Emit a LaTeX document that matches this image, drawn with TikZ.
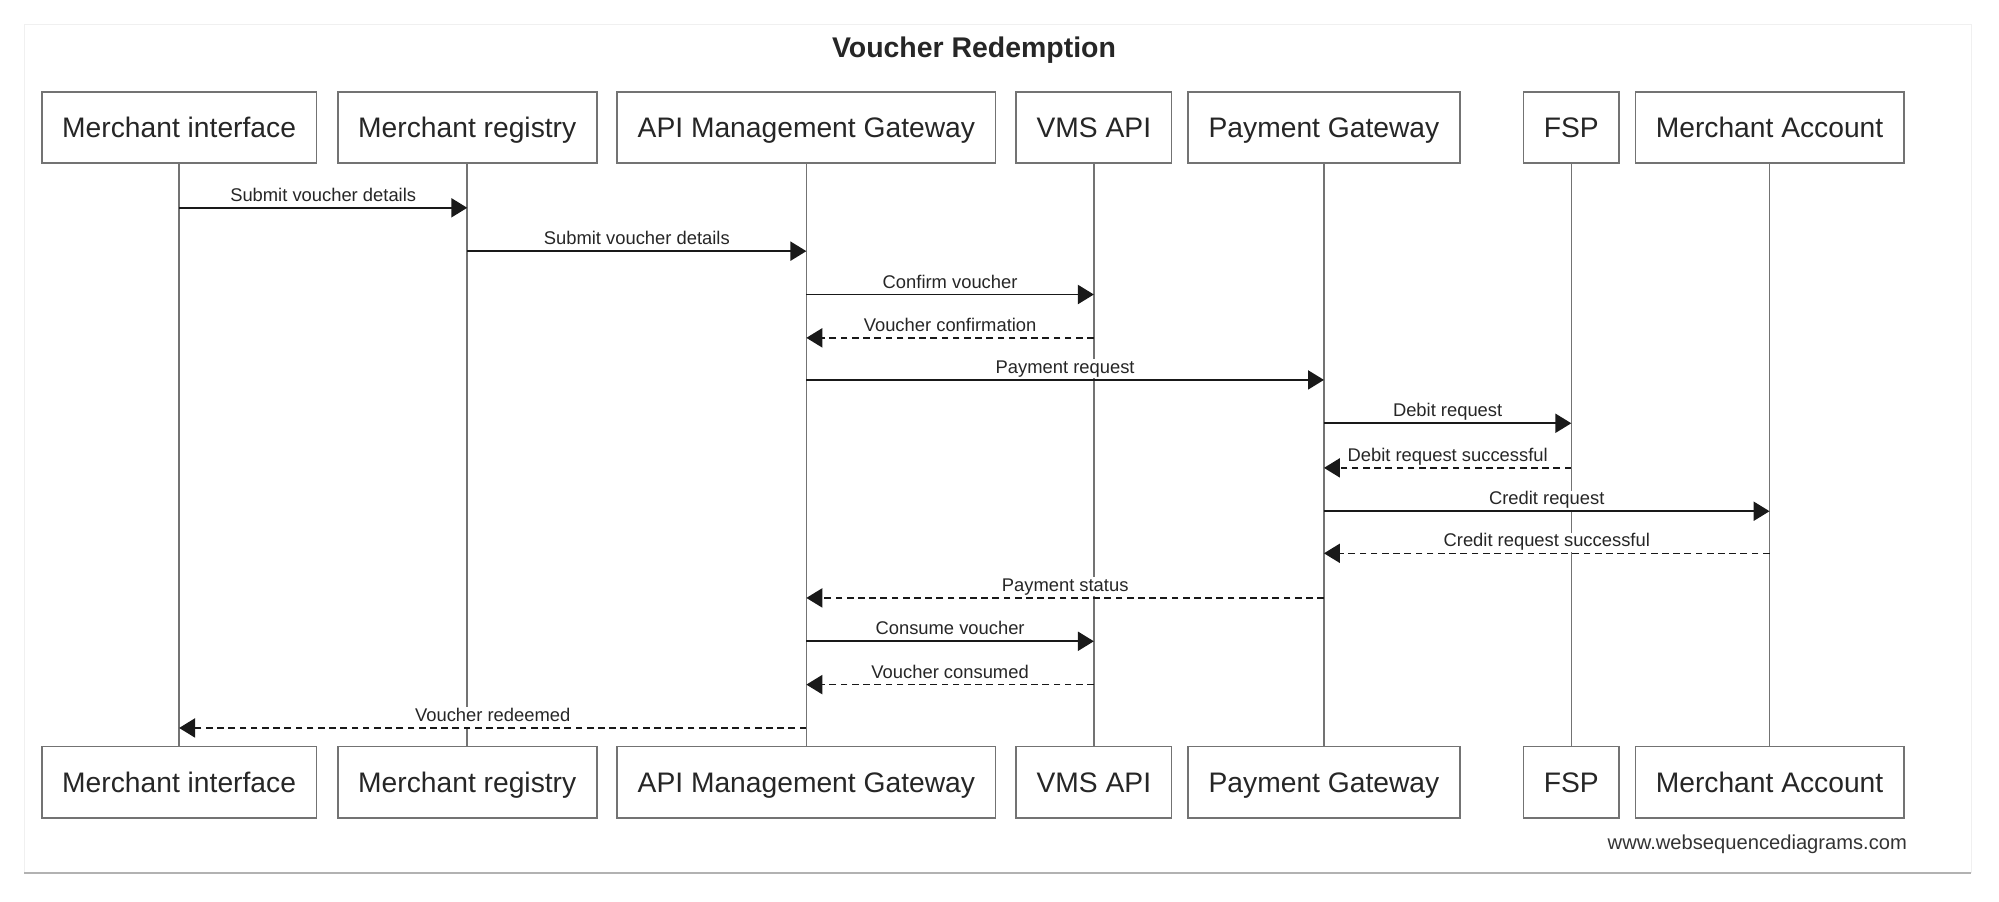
\documentclass[tikz,border=0pt]{standalone}
\usepackage{fontspec}
\setmainfont{Liberation Sans}
\usetikzlibrary{arrows.meta}

\begin{document}
\begin{tikzpicture}[
    participant/.style ={rectangle, draw=black!55, line width=0.8pt, fill=white, text=black!85,
      inner xsep=0.32cm, minimum height=1.12cm, text height=11pt, text depth=2.1pt,
      font=\fontsize{12.6}{15}\selectfont},
    lifeline/.style ={draw=black!55, line width=0.7pt},
    call/.style ={draw=black!90, line width=0.7pt, -{Triangle[length=0.25cm,width=0.3cm]}},
    reply/.style ={call, dash pattern=on 3pt off 2pt},
    msg/.style ={above=0.3pt, fill=white, inner xsep=1.5pt, inner ysep=0.4pt, text height=6pt,
      text depth=1.8pt, text=black!85, font=\fontsize{8.2}{10}\selectfont}]
   \useasboundingbox (0,0) rectangle (31.36,-14.14);
   % frame
   \draw[draw=black!6] (0.38,-13.70) -- (0.38,-0.38) -- (30.92,-0.38) -- (30.92,-13.70);
   \draw[draw=black!30, line width=0.8pt] (0.38,-13.70) -- (30.92,-13.70);
   \node[font=\bfseries\fontsize{12.7}{15}\selectfont, text=black!85] (title) at (15.28,-0.78) {Voucher Redemption};
   % participants
   \node[participant] (MI) at (2.81,-2.0) {Merchant interface};
   \node[participant] (MR) at (7.33,-2.0) {Merchant registry};
   \node[participant] (AG) at (12.65,-2.0) {API Management Gateway};
   \node[participant] (VA) at (17.16,-2.0) {VMS API};
   \node[participant] (PG) at (20.77,-2.0) {Payment Gateway};
   \node[participant] (FS) at (24.65,-2.0) {FSP};
   \node[participant] (MA) at (27.76,-2.0) {Merchant Account};
   \node[participant] (MIb) at (2.81,-12.27) {Merchant interface};
   \node[participant] (MRb) at (7.33,-12.27) {Merchant registry};
   \node[participant] (AGb) at (12.65,-12.27) {API Management Gateway};
   \node[participant] (VAb) at (17.16,-12.27) {VMS API};
   \node[participant] (PGb) at (20.77,-12.27) {Payment Gateway};
   \node[participant] (FSb) at (24.65,-12.27) {FSP};
   \node[participant] (MAb) at (27.76,-12.27) {Merchant Account};
   % lifelines
   \draw[lifeline] (MI) to (MIb);
   \draw[lifeline] (MR) to (MRb);
   \draw[lifeline] (AG) to (AGb);
   \draw[lifeline] (VA) to (VAb);
   \draw[lifeline] (PG) to (PGb);
   \draw[lifeline] (FS) to (FSb);
   \draw[lifeline] (MA) to (MAb);
   % messages
   \draw[call] (MI |- 0,-3.26) -- node[msg] {Submit voucher details} (MR |- 0,-3.26);
   \draw[call] (MR |- 0,-3.94) -- node[msg] {Submit voucher details} (AG |- 0,-3.94);
   \draw[call] (AG |- 0,-4.62) -- node[msg] {Confirm voucher} (VA |- 0,-4.62);
   \draw[reply] (VA |- 0,-5.30) -- node[msg] {Voucher confirmation} (AG |- 0,-5.30);
   \draw[call] (AG |- 0,-5.96) -- node[msg] {Payment request} (PG |- 0,-5.96);
   \draw[call] (PG |- 0,-6.64) -- node[msg] {Debit request} (FS |- 0,-6.64);
   \draw[reply] (FS |- 0,-7.34) -- node[msg] {Debit request successful} (PG |- 0,-7.34);
   \draw[call] (PG |- 0,-8.02) -- node[msg] {Credit request} (MA |- 0,-8.02);
   \draw[reply] (MA |- 0,-8.68) -- node[msg] {Credit request successful} (PG |- 0,-8.68);
   \draw[reply] (PG |- 0,-9.38) -- node[msg] {Payment status} (AG |- 0,-9.38);
   \draw[call] (AG |- 0,-10.06) -- node[msg] {Consume voucher} (VA |- 0,-10.06);
   \draw[reply] (VA |- 0,-10.74) -- node[msg] {Voucher consumed} (AG |- 0,-10.74);
   \draw[reply] (AG |- 0,-11.42) -- node[msg] {Voucher redeemed} (MI |- 0,-11.42);
   \node[anchor=east, text=black!80, font=\fontsize{9}{11}\selectfont] (credit) at (30.04,-13.24) {www.websequencediagrams.com};
\end{tikzpicture}
\end{document}
